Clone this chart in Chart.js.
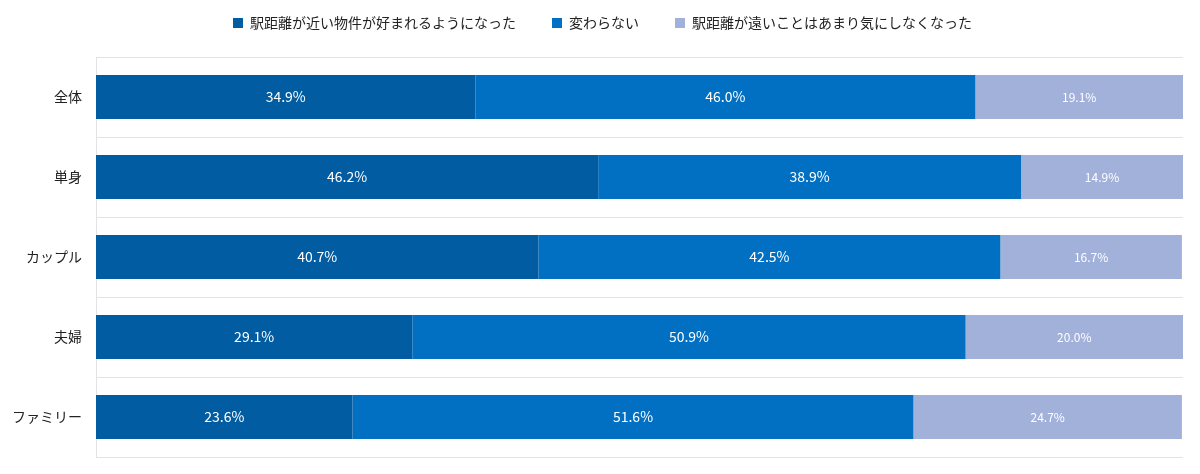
<!DOCTYPE html>
<html>
<head>
<meta charset="utf-8">
<script src="https://cdn.jsdelivr.net/npm/chart.js@4/dist/chart.umd.min.js"></script>
<style>
  html, body { margin: 0; padding: 0; background: #fff; }
  #wrap { width: 1200px; height: 474px; }
</style>
</head>
<body>
<div id="wrap"><canvas id="myBarChart"></canvas></div>
<script>
// カテゴリ
var categories = ['全体', '単身', 'カップル', '夫婦', 'ファミリー'];
// 系列名
var seriesNames = ['駅距離が近い物件が好まれるようになった', '変わらない', '駅距離が遠いことはあまり気にしなくなった'];
// 値 (%)
var nearer = [34.9, 46.2, 40.7, 29.1, 23.6];
var same = [46.0, 38.9, 42.5, 50.9, 51.6];
var farOk = [19.1, 14.9, 16.7, 20.0, 24.7];

var jpFont = '"Noto Sans CJK JP", "Noto Sans", sans-serif';

// 凡例の位置調整 + バーの中央に値を描く
var valueLabels = {
    id: 'valueLabels',
    afterInit: function (chart) {
        var lg = chart.legend;
        if (lg) {
            var orig = lg.fit;
            lg.fit = function () { orig.call(this); this.height = 77; };
        }
    },
    afterLayout: function (chart) {
        if (chart.legend) chart.legend.left += 22;
    },
    afterDatasetsDraw: function (chart) {
        var ctx = chart.ctx;
        ctx.save();
        chart.data.datasets.forEach(function (ds, i) {
            var meta = chart.getDatasetMeta(i);
            meta.data.forEach(function (bar, j) {
                var size = i === 2 ? 12 : 14;
                ctx.font = size + 'px ' + jpFont;
                ctx.fillStyle = '#ffffff';
                ctx.textAlign = 'center';
                ctx.textBaseline = 'middle';
                var cx = (bar.x + bar.base) / 2;
                ctx.fillText(ds.data[j].toFixed(1) + '%', cx, bar.y);
            });
        });
        ctx.restore();
    }
};

var ctx = document.getElementById('myBarChart').getContext('2d');
new Chart(ctx, {
    type: 'bar',
    data: {
        labels: categories,
        datasets: [
            { label: seriesNames[0], data: nearer, backgroundColor: '#015CA1' },
            { label: seriesNames[1], data: same, backgroundColor: '#0170C3' },
            { label: seriesNames[2], data: farOk, backgroundColor: '#A2B1DA' }
        ]
    },
    options: {
        indexAxis: 'y',
        responsive: true,
        maintainAspectRatio: false,
        animation: false,
        layout: { padding: { top: -20, right: 17, bottom: 17, left: 0 } },
        datasets: { bar: { barPercentage: 0.55, categoryPercentage: 1.0 } },
        scales: {
            x: {
                stacked: true,
                min: 0,
                max: 100,
                display: false
            },
            y: {
                stacked: true,
                afterFit: function (scale) {
                    scale.width = 96;
                    scale.paddingTop = 0;
                    scale.paddingBottom = 0;
                },
                grid: { color: '#e3e3e3', drawTicks: false, offset: true },
                border: { display: true, color: '#e3e3e3' },
                ticks: {
                    color: '#222',
                    padding: 14,
                    font: { size: 14, family: jpFont }
                }
            }
        },
        plugins: {
            legend: {
                position: 'top',
                labels: {
                    boxWidth: 10,
                    boxHeight: 10,
                    padding: 36,
                    color: '#222',
                    font: { size: 14, family: jpFont }
                }
            },
            tooltip: { enabled: false }
        }
    },
    plugins: [valueLabels]
});
</script>
</body>
</html>
